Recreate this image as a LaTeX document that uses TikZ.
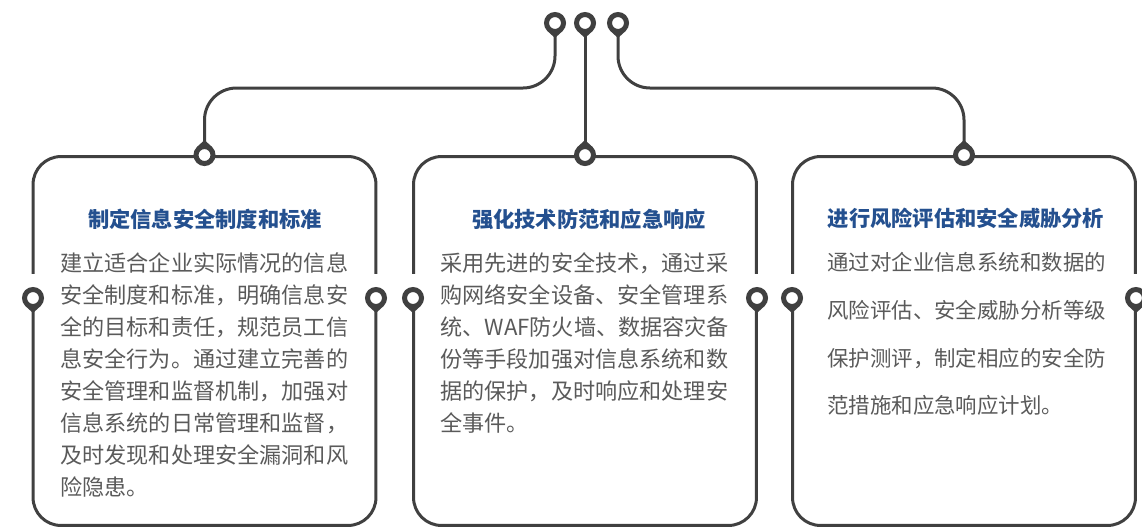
\documentclass[tikz,border=0pt]{standalone}
\usepackage{fontspec}
\setmainfont{Noto Sans CJK SC}
\usetikzlibrary{calc}
\definecolor{wirecol}{HTML}{404040}
\definecolor{titlecol}{HTML}{24508F}
\definecolor{textcol}{HTML}{5A5A5A}
\tikzset{
         wire/.style={draw=wirecol, line width=0.06cm},
         card/.style={wire, rounded corners=0.56cm, minimum width=6.86cm, minimum height=7.38cm, inner sep=0},
         ring/.style={circle, draw=wirecol, fill=white, line width=0.1cm, minimum size=0.34cm, inner sep=0},
         heading/.style={text=titlecol, inner sep=0, font=\fontsize{12.1}{14}\selectfont\bfseries},
         body/.style={text=textcol, align=left, anchor=north west, inner sep=0, font=\fontsize{12.6}{18.2}\selectfont}
        }
\newcommand{\pintail}[2]{\fill[wirecol, shift={(#1)}, rotate=#2] (-7.5,8.1) -- (7.5,8.1) -- (0,15) -- cycle;}

\begin{document}
\begin{tikzpicture}[x=0.02cm, y=-0.02cm]
\useasboundingbox (0,0) rectangle (1142,528); % page size

%%% Three cards

\node[card] (b1) at (204.5,341) {}; % left card
\node[card] (b2) at (585,341) {}; % middle card
\node[card] (b3) at (964,341) {}; % right card
\fill[white] (29,274) rectangle (37,290) (372,274) rectangle (380,290); % gaps on left card
\fill[white] (409,274) rectangle (417,290) (753,274) rectangle (761,290); % gaps on middle card
\fill[white] (788,274) rectangle (796,290) (1130,274) rectangle (1138,290); % gaps on right card

%%% Pins on top and on the cards

\node[ring] (t1) at (555,23) {}; % top pin 1
\node[ring] (t2) at (585,23) {}; % top pin 2
\node[ring] (t3) at (618,23) {}; % top pin 3
\node[ring] (p1) at (b1.north) {}; % pin on left card
\node[ring] (p2) at (b2.north) {}; % pin on middle card
\node[ring] (p3) at (b3.north) {}; % pin on right card
\node[ring] (s1) at (33,298) {}; % side pins
\node[ring] (s2) at (376,298) {};
\node[ring] (s3) at (413,298) {};
\node[ring] (s4) at (757,298) {};
\node[ring] (s5) at (792,298) {};
\node[ring] (s6) at (1136,298) {};
\pintail{t1}{0}\pintail{t2}{0}\pintail{t3}{0} % tails of top pins
\pintail{p1}{180}\pintail{p2}{180}\pintail{p3}{180} % tails of card pins
\pintail{s1}{0}\pintail{s2}{0}\pintail{s3}{0}\pintail{s4}{0}\pintail{s5}{0}\pintail{s6}{0} % tails of side pins

%%% Wiring

\coordinate (lvl) at (585,88); % height of the branches
\draw[wire, rounded corners=0.64cm] (t1) -- (t1 |- lvl) -- (p1 |- lvl) -- (p1); % left branch
\draw[wire] (t2) -- (p2); % middle branch
\draw[wire, rounded corners=0.64cm] (t3) -- (t3 |- lvl) -- (p3 |- lvl) -- (p3); % right branch

%%% Texts

\node[heading] (h1) at (205,219) {制定信息安全制度和标准}; % left title
\node[heading] (h2) at (589,219) {强化技术防范和应急响应}; % middle title
\node[heading] (h3) at (966,218) {进行风险评估和安全威胁分析}; % right title
\node[body] (d1) at (60,252) {建立适合企业实际情况的信息\\安全制度和标准，明确信息安\\全的目标和责任，规范员工信\\息安全行为。通过建立完善的\\安全管理和监督机制，加强对\\信息系统的日常管理和监督，\\及时发现和处理安全漏洞和风\\险隐患。}; % left text
\node[body] (d2) at (440,252) {采用先进的安全技术，通过采\\购网络安全设备、安全管理系\\统、WAF防火墙、数据容灾备\\份等手段加强对信息系统和数\\据的保护，及时响应和处理安\\全事件。}; % middle text
\node[body, font=\fontsize{12.2}{27.2}\selectfont] (d3) at (827,252) {通过对企业信息系统和数据的\\风险评估、安全威胁分析等级\\保护测评，制定相应的安全防\\范措施和应急响应计划。}; % right text
\end{tikzpicture}
\end{document}
